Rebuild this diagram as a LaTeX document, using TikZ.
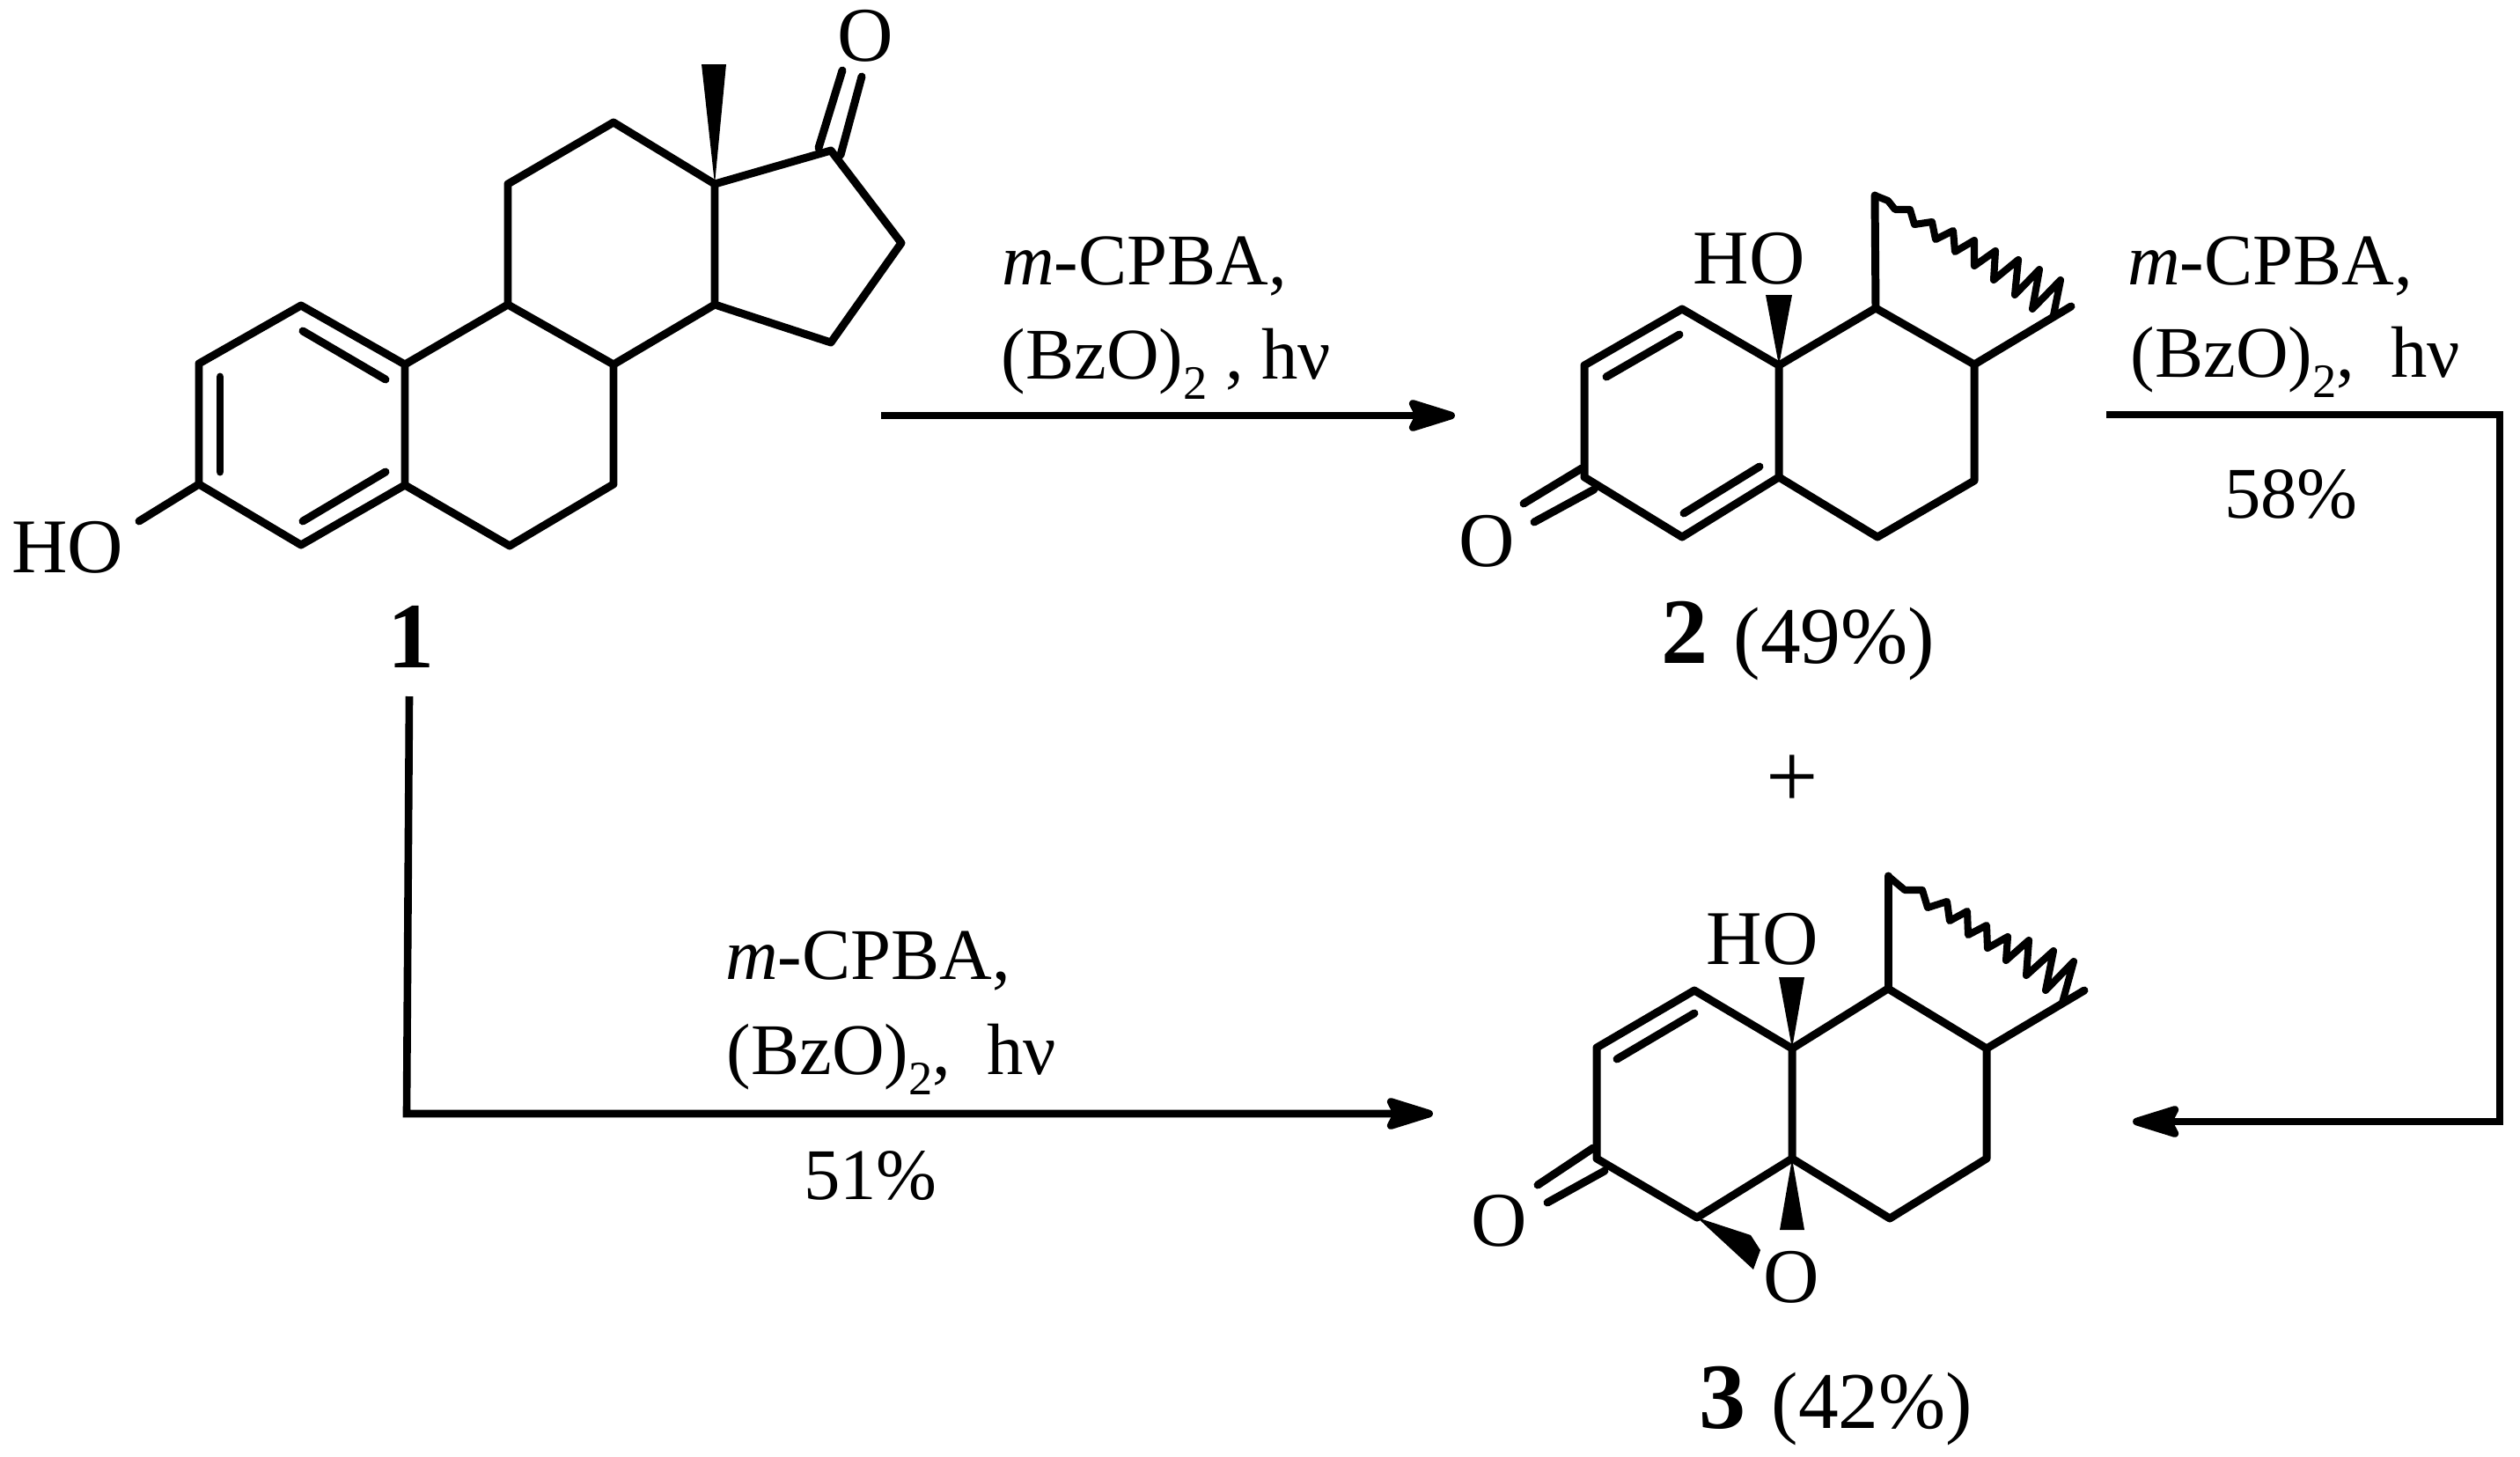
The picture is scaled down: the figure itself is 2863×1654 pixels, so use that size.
\documentclass[tikz,border=0pt]{standalone}
\usepackage{fontspec}
\setmainfont{Liberation Serif}
\usetikzlibrary{arrows.meta}
\tikzset{
    bond/.style={line width=2.55pt, line cap=round, line join=round},
    wavy/.style={line width=2.3pt, line join=round},
    rxn/.style={line width=2.45pt, line join=miter},
    rxnhead/.style={rxn, -{Stealth[length=0.66cm, width=0.4cm, inset=0.1cm, round]}},
    atom/.style={anchor=base, inner sep=0pt, font=\fontsize{25}{30}\selectfont},
    reagent/.style={anchor=base, inner sep=0pt, font=\fontsize{23.5}{30}\selectfont},
    cmpd/.style={anchor=base, inner sep=0pt, font=\fontsize{26}{30}\selectfont}
}
\newcommand{\subtwo}{\raisebox{-6.8pt}{\fontsize{15.5}{15}\selectfont 2}}
\newcommand{\bignum}[1]{{\fontsize{30.2}{30}\selectfont\bfseries #1}}
\begin{document}
\begin{tikzpicture}[x=0.01cm, y=-0.01cm]
    \useasboundingbox (0,0) rectangle (2863,1654);
    % compound 1
    \coordinate (a1) at (226,413);
    \coordinate (a2) at (342,347);
    \coordinate (a3) at (460,414);
    \coordinate (a4) at (460,551);
    \coordinate (a5) at (342,619);
    \coordinate (a6) at (226,550);
    \coordinate (a7) at (577,346);
    \coordinate (a8) at (697,414);
    \coordinate (a9) at (697,550);
    \coordinate (a10) at (579,620);
    \coordinate (a11) at (577,209);
    \coordinate (a12) at (697,139);
    \coordinate (a13) at (812,209);
    \coordinate (a14) at (812,346);
    \coordinate (a15) at (944,389);
    \coordinate (a16) at (1024,276);
    \coordinate (a17) at (944,171);
    \coordinate (a18) at (158,592);
    \coordinate (d1a) at (344,376);
    \coordinate (d1b) at (438,431);
    \coordinate (d2a) at (250,428);
    \coordinate (d2b) at (250,536);
    \coordinate (d3a) at (344,592);
    \coordinate (d3b) at (438,536);
    \coordinate (k1a) at (930,168);
    \coordinate (k1b) at (957,80);
    \coordinate (k2a) at (955,176);
    \coordinate (k2b) at (979,87);
    \coordinate (m1) at (797,73);
    \coordinate (m2) at (825,73);
    \draw[bond] (a1) -- (a2) -- (a3) -- (a4) -- (a5) -- (a6) -- cycle;
    \draw[bond] (a3) -- (a7) -- (a8) -- (a9) -- (a10) -- (a4);
    \draw[bond] (a7) -- (a11) -- (a12) -- (a13) -- (a14) -- (a8);
    \draw[bond] (a14) -- (a15) -- (a16) -- (a17) -- (a13);
    \draw[bond] (a6) -- (a18);
    \draw[bond] (d1a) -- (d1b);
    \draw[bond] (d2a) -- (d2b);
    \draw[bond] (d3a) -- (d3b);
    \draw[bond] (k1a) -- (k1b);
    \draw[bond] (k2a) -- (k2b);
    \fill (a13) -- (m1) -- (m2) -- cycle;
    \node[atom] (ho1) at (77,650) {HO};
    \node[atom] (o1) at (983,69) {O};
    \node[cmpd] (lab1) at (467,758) {\bignum{1}};
    % compound 2
    \coordinate (b1) at (1800,415);
    \coordinate (b2) at (1911,351);
    \coordinate (b3) at (2021,415);
    \coordinate (b4) at (2021,542);
    \coordinate (b5) at (1911,610);
    \coordinate (b6) at (1800,542);
    \coordinate (b7) at (2131,350);
    \coordinate (b8) at (2243,414);
    \coordinate (b9) at (2243,546);
    \coordinate (b10) at (2133,610);
    \coordinate (b11) at (2130,222);
    \coordinate (b12) at (2353,348);
    \coordinate (b13) at (2333,358);
    \coordinate (e1a) at (1825,428);
    \coordinate (e1b) at (1908,380);
    \coordinate (e2a) at (1913,583);
    \coordinate (e2b) at (1999,530);
    \coordinate (l1a) at (1797,532);
    \coordinate (l1b) at (1731,572);
    \coordinate (l2a) at (1811,556);
    \coordinate (l2b) at (1743,593);
    \coordinate (n1) at (2006,335);
    \coordinate (n2) at (2036,335);
    \draw[bond] (b1) -- (b2) -- (b3) -- (b4) -- (b5) -- (b6) -- cycle;
    \draw[bond] (b3) -- (b7) -- (b8) -- (b9) -- (b10) -- (b4);
    \draw[bond] (b7) -- (b11);
    \draw[bond] (b8) -- (b12);
    \draw[wavy] (b11) -- (2145,228) -- (2153,238) -- (2170,238) -- (2175,255) -- (2195,252) -- (2199,272)
        -- (2219,262) -- (2221,286) -- (2243,273) -- (2243,302) -- (2267,285) -- (2265,318)
        -- (2293,295) -- (2289,335) -- (2317,306) -- (2309,351) -- (2341,318) -- (b13);
    \draw[bond] (e1a) -- (e1b);
    \draw[bond] (e2a) -- (e2b);
    \draw[bond] (l1a) -- (l1b);
    \draw[bond] (l2a) -- (l2b);
    \fill (b3) -- (n1) -- (n2) -- cycle;
    \node[atom] (ho2) at (1987,322) {HO};
    \node[atom] (o2) at (1689,643) {O};
    \node[cmpd] (lab2) at (2043,753) {\bignum{2}\hspace{1.7pt} (49\%)};
    \node[cmpd, font=\fontsize{30}{30}\selectfont] (plus) at (2036,917) {+};
    % compound 3
    \coordinate (c1) at (1814,1190);
    \coordinate (c2) at (1925,1125);
    \coordinate (c3) at (2036,1191);
    \coordinate (c4) at (2036,1316);
    \coordinate (c5) at (1928,1383);
    \coordinate (c6) at (1814,1316);
    \coordinate (c7) at (2145,1123);
    \coordinate (c8) at (2257,1191);
    \coordinate (c9) at (2257,1316);
    \coordinate (c10) at (2147,1384);
    \coordinate (c11) at (2145,995);
    \coordinate (c12) at (2368,1125);
    \coordinate (c13) at (2343,1139);
    \coordinate (f1a) at (1837,1203);
    \coordinate (f1b) at (1925,1151);
    \coordinate (g1a) at (1810,1304);
    \coordinate (g1b) at (1747,1346);
    \coordinate (g2a) at (1823,1330);
    \coordinate (g2b) at (1758,1366);
    \coordinate (p1) at (2021,1110);
    \coordinate (p2) at (2050,1110);
    \coordinate (q1) at (2022,1397);
    \coordinate (q2) at (2050,1397);
    \coordinate (r1) at (1989,1403);
    \coordinate (r2) at (2000,1420);
    \coordinate (r3) at (1992,1442);
    \draw[bond] (c1) -- (c2) -- (c3) -- (c4) -- (c5) -- (c6) -- cycle;
    \draw[bond] (c3) -- (c7) -- (c8) -- (c9) -- (c10) -- (c4);
    \draw[bond] (c7) -- (c11);
    \draw[bond] (c8) -- (c12);
    \draw[wavy] (c11) -- (2164,1011) -- (2184,1011) -- (2190,1031) -- (2212,1024) -- (2215,1046)
        -- (2235,1035) -- (2236,1062) -- (2257,1051) -- (2258,1077) -- (2281,1064) -- (2279,1091)
        -- (2305,1068) -- (2302,1108) -- (2333,1080) -- (2324,1125) -- (2356,1092) -- (c13);
    \draw[bond] (f1a) -- (f1b);
    \draw[bond] (g1a) -- (g1b);
    \draw[bond] (g2a) -- (g2b);
    \fill (c3) -- (p1) -- (p2) -- cycle;
    \fill (c4) -- (q1) -- (q2) -- cycle;
    \fill (c5) -- (r1) -- (r2) -- (r3) -- cycle;
    \node[atom] (ho3) at (2002,1095) {HO};
    \node[atom] (o3) at (1703,1415) {O};
    \node[atom] (o4) at (2035,1479) {O};
    \node[cmpd] (lab3) at (2086,1622) {\bignum{3}\hspace{1.7pt} (42\%)};
    % arrows
    \coordinate (s1) at (1001,472);
    \coordinate (t1) at (1653,472);
    \coordinate (s2) at (2393,471);
    \coordinate (k2) at (2840,471);
    \coordinate (l2) at (2840,1274);
    \coordinate (t2) at (2423,1274);
    \coordinate (s3) at (465,791);
    \coordinate (k3) at (462,1265);
    \coordinate (t3) at (1628,1265);
    \draw[rxnhead] (s1) -- (t1);
    \draw[rxnhead] (s2) -- (k2) -- (l2) -- (t2);
    \draw[rxnhead] (s3) -- (k3) -- (t3);
    \node[reagent] (top1) at (1300,323) {\textit{m}-CPBA,};
    \node[reagent] (top2) at (1325,430) {(BzO)\subtwo\ , hν};
    \node[reagent] (right1) at (2579,323) {\textit{m}-CPBA,};
    \node[reagent] (right2) at (2608,428) {(BzO)\subtwo,\ \ hν};
    \node[reagent] (right3) at (2603,588) {58\%};
    \node[reagent] (low1) at (986,1112) {\textit{m}-CPBA,};
    \node[reagent] (low2) at (1013,1220) {(BzO)\subtwo,\ \ hν};
    \node[reagent] (low3) at (989,1362) {51\%};
\end{tikzpicture}
\end{document}
